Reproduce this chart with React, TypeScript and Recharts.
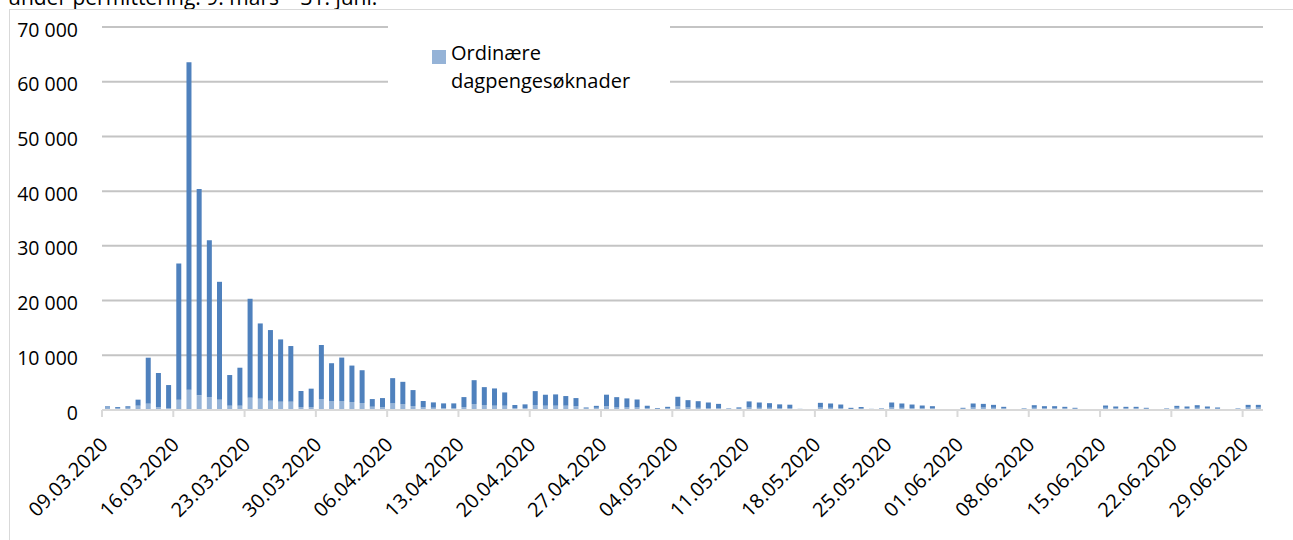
import { BarChart, Bar, XAxis, YAxis, CartesianGrid, Legend } from 'recharts';

// one category per day, 09.03.2020 - 30.06.2020
const pad = (n: number) => (n < 10 ? '0' + n : '' + n);
const dates: string[] = Array.from({ length: 114 }, (_, i) => {
  const d = new Date(2020, 2, 9 + i);
  return `${pad(d.getDate())}.${pad(d.getMonth() + 1)}.${d.getFullYear()}`;
});

const ordinary = [
  450, 380, 420, 790, 1160, 550, 300,
  1890, 3710, 2680, 2370, 1890, 790, 790,
  2250, 2070, 1700, 1520, 1520, 550, 550,
  2000, 1640, 1640, 1450, 1270, 600, 550,
  1210, 1060, 730, 480, 420, 360, 360,
  550, 1090, 910, 790, 790, 360, 360,
  910, 790, 790, 790, 700, 300, 400,
  700, 460, 460, 460, 350, 200, 300,
  640, 460, 400, 350, 350, 150, 250,
  460, 400, 400, 350, 350, 120, 100,
  450, 400, 350, 200, 250, 120, 150,
  450, 400, 350, 300, 300, 60, 60,
  250, 450, 450, 400, 300, 100, 150,
  400, 350, 350, 300, 250, 60, 60,
  400, 350, 300, 300, 250, 60, 150,
  400, 350, 400, 350, 250, 60, 150,
  450, 450,
];

const permittering = [
  220, 170, 250, 1100, 8400, 6210, 4260,
  24890, 59830, 37730, 28670, 21540, 5600, 6940,
  18080, 13750, 12910, 11380, 10170, 2920, 3350,
  9880, 6910, 7940, 6670, 6000, 1400, 1630,
  4610, 4090, 2910, 1160, 970, 850, 850,
  1810, 4360, 3270, 3150, 2420, 550, 670,
  2540, 2000, 2060, 1760, 1480, 160, 360,
  2100, 1890, 1660, 1460, 430, 130, 280,
  1780, 1340, 1210, 1020, 770, 120, 230,
  1110, 970, 850, 680, 620, 90, 50,
  860, 790, 650, 200, 300, 90, 120,
  920, 790, 650, 520, 400, 30, 30,
  150, 740, 670, 540, 280, 50, 120,
  480, 350, 350, 280, 150, 30, 30,
  420, 290, 280, 280, 150, 30, 120,
  360, 290, 480, 290, 210, 30, 120,
  490, 490,
];

const yTicks = [0, 10000, 20000, 30000, 40000, 50000, 60000, 70000];

const data = dates.map((date, i) => ({
  date,
  ordinary: ordinary[i],
  permittering: permittering[i],
}));

const FONT = '"Open Sans", sans-serif';
const PLOT_BOTTOM = 410;
const HALF_BAND = 1161 / 114 / 2;

const fmt = (v: number) => (v === 0 ? '0' : `${Math.round(v / 1000)} 000`);

const YTick = (props: any) => {
  const { y, payload } = props;
  return (
    <text x={78} y={y + 2} textAnchor="end" dominantBaseline="central" fill="#000" fontSize={19.5} fontFamily={FONT}>
      {fmt(payload.value)}
    </text>
  );
};

const XTick = (props: any) => {
  const { x, payload } = props;
  const idx = dates.indexOf(payload.value);
  if (idx % 7 !== 0) return <g />;
  const tx = x - HALF_BAND;
  const ax = tx + 7;
  const ay = PLOT_BOTTOM + 36;
  return (
    <g>
      <line x1={tx} y1={PLOT_BOTTOM} x2={tx} y2={PLOT_BOTTOM + 7} stroke="#d9d9d9" strokeWidth={2} />
      <text
        x={ax}
        y={ay}
        textAnchor="end"
        transform={`rotate(-45 ${ax} ${ay})`}
        fill="#000"
        fontSize={20}
        fontFamily={FONT}
      >
        {payload.value}
      </text>
    </g>
  );
};

const LegendBox = () => (
  <div style={{ position: 'relative', width: 282, height: 82, background: '#fff', fontFamily: FONT, fontSize: 20, color: '#000' }}>
    <div style={{ position: 'absolute', left: 44, top: 32, width: 14, height: 14, background: '#95b3d7' }} />
    <div style={{ position: 'absolute', left: 63, top: 21, lineHeight: '28px', textAlign: 'left' }}>
      Ordinære
      <br />
      dagpengesøknader
    </div>
  </div>
);

export default function App() {
  return (
    <div style={{ position: 'relative', width: 1293, height: 540, overflow: 'hidden', background: '#fff' }}>
      <style>{'body{margin:0}'}</style>
      <div style={{ position: 'absolute', left: 8, top: -17, fontFamily: FONT, fontSize: 21, color: '#000', whiteSpace: 'nowrap' }}>
        under permittering. 9. mars – 31. juni.
      </div>
      <div style={{ position: 'absolute', left: 9, top: 9, width: 1400, height: 700, border: '1.5px solid #d9d9d9' }} />
      <div style={{ position: 'absolute', left: 0, top: 0 }}>
        <BarChart width={1293} height={540} data={data} margin={{ top: 27, right: 30, bottom: 0, left: 0 }} barCategoryGap={0}>
          <CartesianGrid vertical={false} stroke="#c4c4c4" strokeWidth={2} />
          <XAxis
            dataKey="date"
            interval={0}
            height={130}
            tickLine={false}
            axisLine={{ stroke: '#d9d9d9', strokeWidth: 2 }}
            tick={<XTick />}
          />
          <YAxis
            width={102}
            domain={[0, 70000]}
            ticks={yTicks}
            interval={0}
            axisLine={false}
            tickLine={false}
            tick={<YTick />}
          />
          <Legend
            layout="horizontal"
            align="center"
            verticalAlign="middle"
            wrapperStyle={{ position: 'absolute', left: 388, top: 18, width: 282, height: 82 }}
            content={() => <LegendBox />}
          />
          <Bar dataKey="ordinary" stackId="a" fill="#95b3d7" barSize={5} isAnimationActive={false} name="Ordinære dagpengesøknader" />
          <Bar dataKey="permittering" stackId="a" fill="#4f81bd" barSize={5} isAnimationActive={false} name="Permitteringer" />
        </BarChart>
      </div>
    </div>
  );
}
